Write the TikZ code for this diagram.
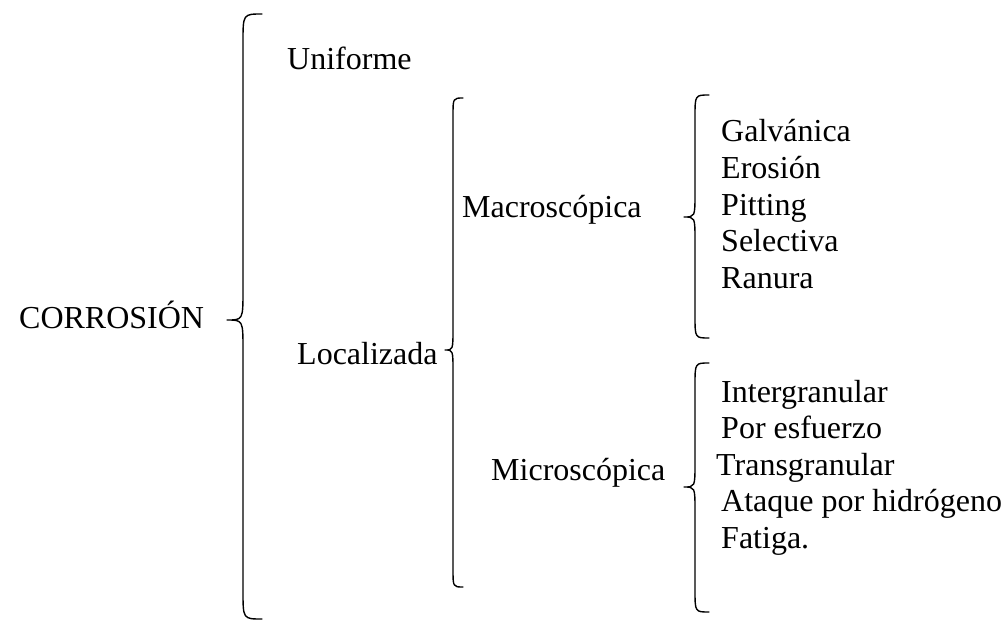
\documentclass[tikz,border=0pt]{standalone}
\usepackage{fontspec}
\setmainfont{Liberation Serif}
\begin{document}
\begin{tikzpicture}[x=1pt,y=-1pt,
  lbl/.style={anchor=base west,inner sep=0pt,font=\fontsize{32}{38}\selectfont},
  brace/.style={line width=1.4pt,line cap=round,line join=round}]
\useasboundingbox (0,0) rectangle (1003,623);
% texts
\node[lbl] (corr) at (19,328) {CORROSIÓN};
\node[lbl] (unif) at (287,70) {Uniforme};
\node[lbl] (loc) at (297,364) {Localizada};
\node[lbl] (macro) at (462,217) {Macroscópica};
\node[lbl] (micro) at (491,480) {Microscópica};
\node[lbl] (g1) at (721,142) {Galvánica};
\node[lbl] (g2) at (721,178.5) {Erosión};
\node[lbl] (g3) at (721,215) {Pitting};
\node[lbl] (g4) at (721,251.5) {Selectiva};
\node[lbl] (g5) at (721,288) {Ranura};
\node[lbl] (m1) at (721,402) {Intergranular};
\node[lbl] (m2) at (721,438.5) {Por esfuerzo};
\node[lbl] (m3) at (716,475) {Transgranular};
\node[lbl] (m4) at (721,511.5) {Ataque por hidrógeno};
\node[lbl] (m5) at (721,548) {Fatiga.};
% braces: #1 xend, #2 xv, #3 xtip, #4 ytop, #5 ytip, #6 ybot, #7 end radius, #8 cusp radius
\newcommand{\mybrace}[8]{%
  \draw[brace] (#1,#4) .. controls (#2,#4) .. (#2,#4+#7) -- (#2,#5-#8)
    .. controls (#2,#5) .. (#3,#5) .. controls (#2,#5) .. (#2,#5+#8)
    -- (#2,#6-#7) .. controls (#2,#6) .. (#1,#6);}
\mybrace{262}{243}{227}{14}{320}{619}{28}{30}
\mybrace{463}{453}{445}{98}{350}{587}{18}{22}
\mybrace{709}{695}{684}{95}{217}{338}{22}{24}
\mybrace{709}{695}{684}{363}{487}{612}{22}{24}
\end{tikzpicture}
\end{document}
